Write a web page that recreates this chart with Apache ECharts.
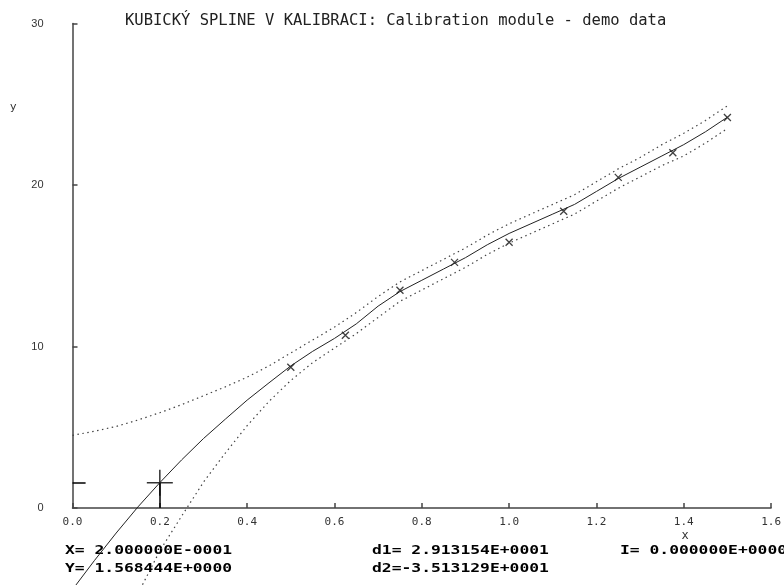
<!DOCTYPE html>
<html>
<head>
<meta charset="utf-8">
<script src="https://cdn.jsdelivr.net/npm/echarts@6/dist/echarts.min.js"></script>
<style>html,body{margin:0;padding:0;background:#fff}#c{width:784px;height:585px}</style>
</head>
<body>
<div id="c"></div>
<script>
// measured calibration points
const pointX = [0.5, 0.625, 0.75, 0.875, 1.0, 1.125, 1.25, 1.375, 1.5];
const pointY = [8.72, 10.70, 13.48, 15.21, 16.45, 18.37, 20.47, 22.0, 24.18];

// spline curve
const curveX = [0, 0.05, 0.1, 0.15, 0.2, 0.25, 0.3, 0.35, 0.4, 0.45, 0.5, 0.55, 0.6, 0.65, 0.7, 0.75, 0.8, 0.85, 0.9, 0.95, 1.0, 1.05, 1.1, 1.15, 1.2, 1.25, 1.3, 1.35, 1.4, 1.45, 1.5];
const curveY = [-5.05, -3.26, -1.55, 0.07, 1.57, 2.98, 4.3, 5.5, 6.68, 7.75, 8.8, 9.7, 10.5, 11.4, 12.5, 13.4, 14.1, 14.8, 15.5, 16.3, 17.0, 17.6, 18.2, 18.8, 19.6, 20.4, 21.1, 21.8, 22.5, 23.3, 24.2];

// confidence band (dotted)
const upperY = [4.5, 4.75, 5.05, 5.45, 5.9, 6.4, 6.95, 7.5, 8.1, 8.8, 9.6, 10.4, 11.2, 12.1, 13.1, 14.0, 14.7, 15.4, 16.1, 16.9, 17.6, 18.2, 18.8, 19.4, 20.2, 21.0, 21.7, 22.5, 23.2, 24.0, 24.9];
const lowerY = [null, null, null, -5.3, -2.65, -0.5, 1.6, 3.4, 5.1, 6.6, 7.9, 9.0, 9.9, 10.8, 11.8, 12.8, 13.5, 14.2, 14.9, 15.7, 16.4, 17.0, 17.6, 18.2, 19.0, 19.8, 20.5, 21.2, 21.8, 22.6, 23.5];

// cursor
const cursorX = 0.2;
const cursorY = 1.568444;
const d1 = 29.13154;
const d2 = -35.13129;
const integralI = 0;

const xTicks = ['0.0', '0.2', '0.4', '0.6', '0.8', '1.0', '1.2', '1.4', '1.6'];
const yTicks = ['0', '10', '20', '30'];

const titleText = 'KUBICKÝ SPLINE V KALIBRACI: Calibration module - demo data';

function sci(v) {
  if (v === 0) return '0.000000E+0000';
  const e = Math.floor(Math.log10(Math.abs(v)));
  const m = v / Math.pow(10, e);
  const es = (e < 0 ? '-' : '+') + String(Math.abs(e)).padStart(4, '0');
  return m.toFixed(6) + 'E' + es;
}
function fmt(v) { return v < 0 ? sci(v) : ' ' + sci(v); }

const zip = (xs, ys) => xs.map((x, i) => [x, ys[i]]).filter(p => p[1] !== null);

const chart = echarts.init(document.getElementById('c'), null, {renderer: 'canvas'});
const monoBold = {fontFamily: 'DejaVu Sans Mono', fontWeight: 'bold', fontSize: 12, fill: '#000'};
const textScale = 1.36;

chart.setOption({
  animation: false,
  backgroundColor: '#fff',
  title: {
    text: titleText,
    left: 120, top: 8,
    textStyle: {fontFamily: 'DejaVu Sans Mono', fontSize: 15.5, fontWeight: 'normal', color: '#222'}
  },
  grid: {left: 72.5, right: 11, top: 23.5, bottom: 77, containLabel: false},
  xAxis: {
    type: 'value', min: 0, max: 1.6, interval: 0.2,
    name: 'x', nameLocation: 'end', nameGap: -86,
    nameTextStyle: {fontFamily: 'DejaVu Sans Mono', fontSize: 12, color: '#333', align: 'center', verticalAlign: 'top', padding: [22, 0, 0, 0]},
    axisLine: {lineStyle: {color: '#444', width: 1.5}},
    axisTick: {inside: true, length: 5, lineStyle: {color: '#444', width: 1.5}},
    axisLabel: {margin: 9, fontFamily: 'DejaVu Sans Mono', fontSize: 11, color: '#333',
      formatter: (v) => xTicks[Math.round(v / 0.2)]},
    splitLine: {show: false}
  },
  yAxis: {
    type: 'value', min: 0, max: 30, interval: 10,
    name: 'y', nameLocation: 'end', nameGap: -84,
    nameTextStyle: {fontFamily: 'DejaVu Sans', fontSize: 11, color: '#333', align: 'right', verticalAlign: 'middle', padding: [0, 56, 0, 0]},
    axisLine: {lineStyle: {color: '#444', width: 1.5}},
    axisTick: {inside: true, length: 5, lineStyle: {color: '#444', width: 1.5}},
    axisLabel: {margin: 29, fontFamily: 'Liberation Sans', fontSize: 11, color: '#333',
      formatter: (v) => yTicks[Math.round(v / 10)]},
    splitLine: {show: false}
  },
  series: [
    {
      name: 'spline', type: 'line', data: zip(curveX, curveY), clip: false,
      showSymbol: false, symbol: 'none',
      lineStyle: {color: '#222', width: 1}
    },
    {
      name: 'upper', type: 'line', data: zip(curveX, upperY), clip: false,
      showSymbol: false, symbol: 'none',
      lineStyle: {color: '#444', width: 1.2, type: [1.5, 3.5]}
    },
    {
      name: 'lower', type: 'line', data: zip(curveX, lowerY), clip: false,
      showSymbol: false, symbol: 'none',
      lineStyle: {color: '#444', width: 1.2, type: [1.5, 3.5]}
    },
    {
      name: 'points', type: 'scatter', data: zip(pointX, pointY),
      symbol: 'path://M0,0L8,8M8,0L0,8', symbolSize: 7,
      itemStyle: {color: 'none', borderColor: '#111', borderWidth: 1.3}
    },
    {
      name: 'cursor', type: 'scatter', data: [[cursorX, cursorY]],
      symbol: 'path://M0,13H26M13,0V26', symbolSize: 26,
      itemStyle: {color: 'none', borderColor: '#000', borderWidth: 1.5},
      markLine: {
        silent: true, symbol: 'none', label: {show: false},
        lineStyle: {color: '#000', width: 1.5, type: 'solid'},
        data: [
          [{coord: [cursorX, 0]}, {coord: [cursorX, cursorY]}],
          [{coord: [0, cursorY]}, {coord: [0.03, cursorY]}]
        ]
      }
    }
  ],
  graphic: [
    {type: 'text', left: 65, top: 545, scaleX: textScale, style: Object.assign({text: 'X=' + fmt(cursorX)}, monoBold)},
    {type: 'text', left: 65, top: 563, scaleX: textScale, style: Object.assign({text: 'Y=' + fmt(cursorY)}, monoBold)},
    {type: 'text', left: 372, top: 545, scaleX: textScale, style: Object.assign({text: 'd1=' + fmt(d1)}, monoBold)},
    {type: 'text', left: 372, top: 563, scaleX: textScale, style: Object.assign({text: 'd2=' + fmt(d2)}, monoBold)},
    {type: 'text', left: 620, top: 545, scaleX: textScale, style: Object.assign({text: 'I=' + fmt(integralI)}, monoBold)}
  ]
});
</script>
</body>
</html>
